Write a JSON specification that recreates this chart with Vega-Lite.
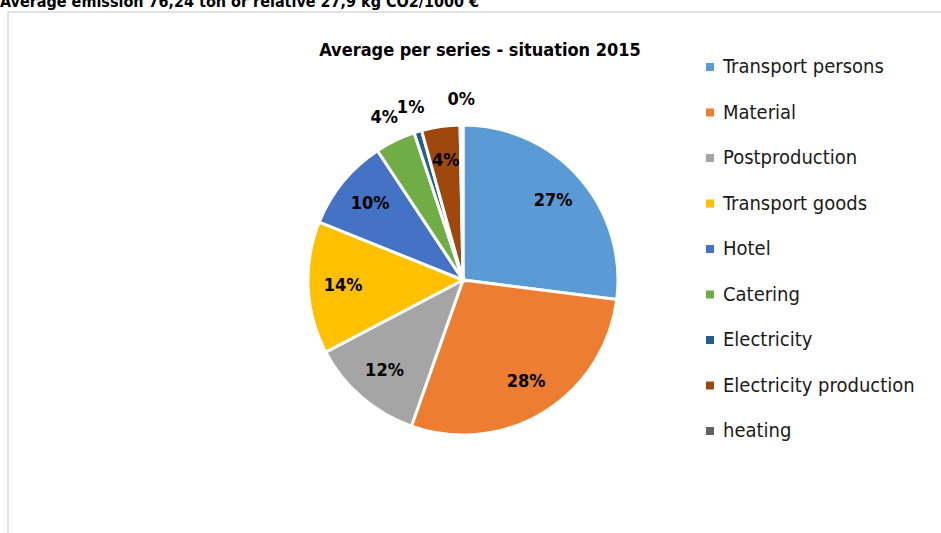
{
  "$schema": "https://vega.github.io/schema/vega-lite/v6.json",
  "autosize": {"type": "pad"},
  "padding": {"left": 0, "top": -6, "right": 0, "bottom": 0},
  "background": "white",
  "title": {
    "text": "Average emission 76,24 ton or relative 27,9 kg CO2/1000 €",
    "anchor": "start",
    "frame": "group",
    "font": "DejaVu Sans Condensed, Liberation Sans",
    "fontSize": 16,
    "fontWeight": "bold",
    "color": "black",
    "baseline": "alphabetic",
    "offset": -12,
    "dx": -8
  },
  "data": {
    "values": [
      {"rank": 1, "category": "Transport persons", "share": 0.270},
      {"rank": 2, "category": "Material", "share": 0.284},
      {"rank": 3, "category": "Postproduction", "share": 0.119},
      {"rank": 4, "category": "Transport goods", "share": 0.138},
      {"rank": 5, "category": "Hotel", "share": 0.096},
      {"rank": 6, "category": "Catering", "share": 0.042},
      {"rank": 7, "category": "Electricity", "share": 0.008},
      {"rank": 8, "category": "Electricity production", "share": 0.040},
      {"rank": 9, "category": "heating", "share": 0.003}
    ]
  },
  "vconcat": [
    {
      "width": 940,
      "height": 536,
      "view": {"stroke": "#D9D9D9", "strokeWidth": 1.5},
      "title": {
        "text": "Average per series - situation 2015",
        "anchor": "middle",
        "frame": "group",
        "font": "DejaVu Sans Condensed, Liberation Sans",
        "fontSize": 18,
        "fontWeight": "bold",
        "color": "black",
        "baseline": "alphabetic",
        "offset": -62,
        "dx": 2
      },
      "encoding": {
        "theta": {"field": "share", "type": "quantitative", "stack": true},
        "order": {"field": "rank", "type": "quantitative"}
      },
      "layer": [
        {
          "mark": {"type": "arc", "outerRadius": 155, "stroke": "white", "strokeWidth": 3, "xOffset": -15},
          "encoding": {
            "color": {
              "field": "category",
              "type": "nominal",
              "sort": null,
              "scale": {
                "domain": ["Transport persons", "Material", "Postproduction", "Transport goods", "Hotel", "Catering", "Electricity", "Electricity production", "heating"],
                "range": ["#5B9BD5", "#ED7D31", "#A5A5A5", "#FFC000", "#4472C4", "#70AD47", "#255E91", "#9E480E", "#636363"]
              },
              "legend": {
                "title": null,
                "orient": "none",
                "legendX": 692,
                "legendY": 45,
                "padding": 0,
                "symbolType": "square",
                "symbolSize": 64,
                "symbolStrokeWidth": 0,
                "labelOffset": 3,
                "labelFont": "DejaVu Sans Condensed, Liberation Sans",
                "labelFontSize": 20,
                "labelColor": "#1a1a1a",
                "labelLimit": 300,
                "rowPadding": 25.5
              }
            }
          }
        },
        {
          "mark": {"type": "text", "radius": 120, "xOffset": -15, "font": "DejaVu Sans Condensed, Liberation Sans", "fontSize": 18, "fontWeight": "bold", "color": "black"},
          "encoding": {
            "detail": {"field": "category", "type": "nominal"},
            "text": {
              "condition": {"test": "indexof(['Catering','Electricity','heating'], datum.category) < 0", "field": "share", "type": "quantitative", "format": ".0%"},
              "value": ""
            }
          }
        },
        {
          "mark": {"type": "text", "radius": 180, "xOffset": -15, "font": "DejaVu Sans Condensed, Liberation Sans", "fontSize": 18, "fontWeight": "bold", "color": "black"},
          "encoding": {
            "detail": {"field": "category", "type": "nominal"},
            "text": {
              "condition": {"test": "indexof(['Catering','Electricity','heating'], datum.category) >= 0", "field": "share", "type": "quantitative", "format": ".0%"},
              "value": ""
            }
          }
        }
      ]
    }
  ]
}
